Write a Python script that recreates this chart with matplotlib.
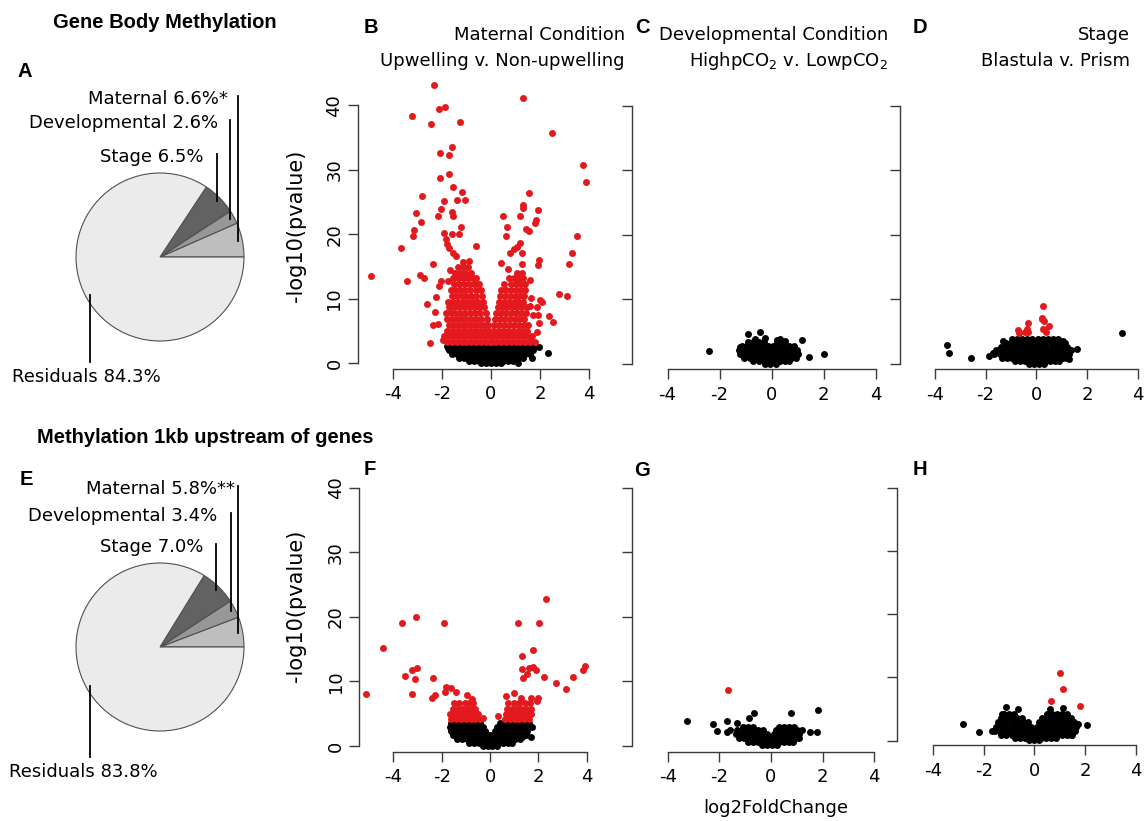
import numpy as np
import matplotlib
matplotlib.use('Agg')
import matplotlib.pyplot as plt

W, H = 1148, 821
plt.rcParams['font.family'] = 'DejaVu Sans'
plt.rcParams['axes.unicode_minus'] = False

# ---- pie data (variance explained, %) ----
pie_names = ['Maternal', 'Developmental', 'Stage', 'Residuals']
pie_a_pct = [6.6, 2.6, 6.5, 84.3]
pie_a_tags = ['*', '', '', '']
pie_e_pct = [5.8, 3.4, 7.0, 83.8]
pie_e_tags = ['**', '', '', '']
pie_colors = ['#BEBEBE', '#979797', '#626262', '#EBEBEB']

# ---- volcano data: (log2FoldChange, -log10(pvalue)) ----
b_black = [
    (-1.8, 2.7), (-1.6, 2.7), (-1.4, 2.7), (-1.2, 2.7), (-1.0, 2.7), (-0.8, 2.7), (-0.6, 2.7), (-0.4, 2.7), (-0.2, 2.7),
    (0.0, 2.7), (0.2, 2.7), (0.4, 2.7), (0.6, 2.7), (0.8, 2.7), (1.0, 2.7), (1.2, 2.7), (1.4, 2.7), (1.6, 2.7),
    (-1.7, 2.1), (-1.5, 2.1), (-1.3, 2.1), (-1.1, 2.1), (-0.9, 2.1), (-0.7, 2.1), (-0.5, 2.1), (-0.3, 2.1), (-0.1, 2.1),
    (0.1, 2.1), (0.3, 2.1), (0.5, 2.1), (0.7, 2.1), (0.9, 2.1), (1.1, 2.1), (1.3, 2.1), (1.5, 2.1), (1.7, 2.1),
    (-1.6, 1.5), (-1.4, 1.5), (-1.2, 1.5), (-1.0, 1.5), (-0.8, 1.5), (-0.6, 1.5), (-0.4, 1.5), (-0.2, 1.5), (0.0, 1.5),
    (0.2, 1.5), (0.4, 1.5), (0.6, 1.5), (0.8, 1.5), (1.0, 1.5), (1.2, 1.5), (1.4, 1.5), (1.6, 1.5),
    (-1.3, 0.9), (-1.1, 0.9), (-0.9, 0.9), (-0.7, 0.9), (-0.5, 0.9), (-0.3, 0.9), (-0.1, 0.9),
    (0.1, 0.9), (0.3, 0.9), (0.5, 0.9), (0.7, 0.9), (0.9, 0.9), (1.1, 0.9), (1.3, 0.9),
    (-0.9, 0.4), (-0.7, 0.4), (-0.5, 0.4), (-0.3, 0.4), (-0.1, 0.4), (0.1, 0.4), (0.3, 0.4), (0.5, 0.4), (0.7, 0.4), (0.9, 0.4),
    (-0.4, 0.05), (-0.2, 0.05), (0.0, 0.05), (0.2, 0.05), (0.4, 0.05),
    (-1.74, 2.4), (1.73, 2.45), (1.96, 2.6), (2.34, 1.6), (1.68, 0.8), (1.11, 0.0),
]
b_red = [
    # scattered hits
    (-2.32, 43.2), (1.32, 41.1), (-2.11, 39.5), (-1.86, 39.8), (-3.21, 38.4), (-2.46, 37.1), (-1.26, 37.4),
    (2.47, 35.7), (-1.6, 33.6), (-2.08, 32.7), (-1.73, 32.3), (3.74, 30.8), (3.87, 28.2), (-1.73, 29.4),
    (-2.08, 28.7), (-2.8, 25.9), (-1.92, 25.2), (-1.54, 27.3), (-1.17, 26.6), (-1.05, 25.4), (-1.39, 25.3),
    (1.56, 26.4), (1.32, 24.6), (1.32, 24.1), (1.93, 23.8), (-3.06, 23.4), (-2.05, 23.9), (-2.17, 22.8),
    (-1.6, 23.5), (-1.54, 22.8), (0.5, 22.9), (1.18, 22.9), (0.67, 21.1), (0.61, 19.8), (1.82, 22.2),
    (1.79, 21.8), (1.43, 20.9), (1.54, 20.5), (-2.87, 22.0), (-3.13, 20.7), (-3.17, 19.8), (-1.22, 21.1),
    (-1.29, 20.0), (-1.58, 20.0), (-1.9, 20.2), (-1.85, 19.3), (-1.8, 18.6), (-1.7, 17.9), (-1.54, 17.2),
    (-1.43, 16.6), (-0.61, 18.2), (-3.67, 17.9), (3.49, 19.8), (3.32, 17.1), (3.18, 15.5), (1.97, 16.0),
    (1.92, 15.3), (1.18, 18.7), (1.05, 18.1), (0.94, 17.7), (0.77, 17.2), (1.25, 17.2), (1.28, 15.5),
    (0.39, 15.6), (0.71, 14.6), (-2.35, 15.5), (-1.13, 15.8), (-0.9, 15.9), (-3.44, 12.8), (-4.9, 13.5),
    (-2.89, 13.7), (-2.71, 13.3), (-2.04, 12.8), (-2.1, 12.0), (-2.6, 9.2), (-2.24, 10.3), (-2.27, 8.0),
    (-2.38, 6.0), (-2.15, 6.2), (-2.49, 3.2), (-1.94, 3.6), (2.79, 10.8), (3.08, 10.4), (2.38, 7.3),
    (2.54, 6.4), (1.97, 6.3), (1.93, 7.5), (1.7, 7.5), (1.86, 4.9), (1.62, 4.1), (2.0, 9.8), (2.09, 9.5),
    (1.62, 10.1), (1.59, 8.9), (1.89, 8.8), (-1.75, 12.8), (-1.67, 14.5), (1.59, 12.9), (1.11, 12.9),
    # dense left arm
    (-1.8, 3.3), (-1.6, 3.3), (-1.4, 3.3), (-1.2, 3.3), (-1.0, 3.3), (-0.8, 3.3), (-0.6, 3.3), (-0.4, 3.3), (-0.22, 3.3), (-0.06, 3.3),
    (-1.9, 4.2), (-1.7, 4.2), (-1.5, 4.2), (-1.3, 4.2), (-1.1, 4.2), (-0.9, 4.2), (-0.7, 4.2), (-0.5, 4.2), (-0.3, 4.2), (-0.1, 4.2),
    (-1.8, 5.1), (-1.6, 5.1), (-1.4, 5.1), (-1.2, 5.1), (-1.0, 5.1), (-0.8, 5.1), (-0.6, 5.1), (-0.4, 5.1), (-0.25, 5.1), (-0.1, 5.1),
    (-1.7, 6.0), (-1.5, 6.0), (-1.3, 6.0), (-1.1, 6.0), (-0.9, 6.0), (-0.7, 6.0), (-0.5, 6.0), (-0.3, 6.0), (-0.13, 6.0),
    (-1.8, 6.9), (-1.6, 6.9), (-1.4, 6.9), (-1.2, 6.9), (-1.0, 6.9), (-0.8, 6.9), (-0.6, 6.9), (-0.4, 6.9), (-0.16, 6.9),
    (-1.85, 7.8), (-1.65, 7.8), (-1.45, 7.8), (-1.25, 7.8), (-1.05, 7.8), (-0.85, 7.8), (-0.65, 7.8), (-0.45, 7.8), (-0.22, 7.8),
    (-1.7, 8.7), (-1.5, 8.7), (-1.3, 8.7), (-1.1, 8.7), (-0.9, 8.7), (-0.7, 8.7), (-0.5, 8.7), (-0.27, 8.7),
    (-1.75, 9.6), (-1.55, 9.6), (-1.35, 9.6), (-1.15, 9.6), (-0.95, 9.6), (-0.75, 9.6), (-0.55, 9.6), (-0.32, 9.6),
    (-1.6, 10.5), (-1.4, 10.5), (-1.2, 10.5), (-1.0, 10.5), (-0.8, 10.5), (-0.6, 10.5), (-0.36, 10.5),
    (-1.65, 11.4), (-1.45, 11.4), (-1.25, 11.4), (-1.05, 11.4), (-0.85, 11.4), (-0.62, 11.4), (-0.4, 11.4),
    (-1.5, 12.3), (-1.3, 12.3), (-1.1, 12.3), (-0.9, 12.3), (-0.7, 12.3), (-0.48, 12.3),
    (-1.55, 13.2), (-1.35, 13.2), (-1.15, 13.2), (-0.95, 13.2), (-0.75, 13.2), (-0.6, 13.2),
    (-1.45, 14.1), (-1.25, 14.1), (-1.05, 14.1), (-0.8, 14.1),
    (-1.35, 15.0), (-1.15, 15.0), (-0.95, 15.0),
    # dense right arm
    (0.06, 3.3), (0.22, 3.3), (0.4, 3.3), (0.6, 3.3), (0.8, 3.3), (1.0, 3.3), (1.2, 3.3), (1.4, 3.3), (1.6, 3.3), (1.8, 3.3),
    (0.1, 4.2), (0.3, 4.2), (0.5, 4.2), (0.7, 4.2), (0.9, 4.2), (1.1, 4.2), (1.3, 4.2), (1.5, 4.2), (1.68, 4.2),
    (0.1, 5.1), (0.28, 5.1), (0.48, 5.1), (0.68, 5.1), (0.88, 5.1), (1.08, 5.1), (1.28, 5.1), (1.48, 5.1),
    (0.13, 6.0), (0.33, 6.0), (0.53, 6.0), (0.73, 6.0), (0.93, 6.0), (1.13, 6.0), (1.33, 6.0), (1.5, 6.0),
    (0.16, 6.9), (0.36, 6.9), (0.56, 6.9), (0.76, 6.9), (0.96, 6.9), (1.16, 6.9), (1.36, 6.9),
    (0.22, 7.8), (0.42, 7.8), (0.62, 7.8), (0.82, 7.8), (1.02, 7.8), (1.22, 7.8), (1.42, 7.8),
    (0.27, 8.7), (0.47, 8.7), (0.67, 8.7), (0.87, 8.7), (1.07, 8.7), (1.27, 8.7), (1.45, 8.7),
    (0.32, 9.6), (0.52, 9.6), (0.72, 9.6), (0.92, 9.6), (1.12, 9.6), (1.32, 9.6),
    (0.36, 10.5), (0.56, 10.5), (0.76, 10.5), (0.96, 10.5), (1.16, 10.5), (1.36, 10.5),
    (0.42, 11.4), (0.62, 11.4), (0.82, 11.4), (1.02, 11.4), (1.22, 11.4), (1.4, 11.4),
    (0.55, 12.3), (0.8, 12.3), (1.0, 12.3), (1.2, 12.3), (1.38, 12.3),
    (0.75, 13.2), (0.95, 13.2), (1.15, 13.2), (1.32, 13.2),
    (1.05, 14.1), (1.25, 14.1),
]
c_black = [
    (-0.9, 3.4), (-0.7, 3.4), (-0.5, 3.4), (-0.3, 3.4), (0.2, 3.4), (0.4, 3.4),
    (-1.15, 2.8), (-0.95, 2.8), (-0.75, 2.8), (-0.55, 2.8), (-0.35, 2.8), (-0.15, 2.8), (0.05, 2.8), (0.25, 2.8),
    (0.45, 2.8), (0.65, 2.8), (0.85, 2.8),
    (-1.25, 2.2), (-1.05, 2.2), (-0.85, 2.2), (-0.65, 2.2), (-0.45, 2.2), (-0.25, 2.2), (-0.05, 2.2), (0.15, 2.2),
    (0.35, 2.2), (0.55, 2.2), (0.75, 2.2), (0.95, 2.2),
    (-1.2, 1.6), (-1.0, 1.6), (-0.8, 1.6), (-0.6, 1.6), (-0.4, 1.6), (-0.2, 1.6), (0.0, 1.6), (0.2, 1.6),
    (0.4, 1.6), (0.6, 1.6), (0.8, 1.6), (1.0, 1.6),
    (-1.05, 1.0), (-0.85, 1.0), (-0.65, 1.0), (-0.45, 1.0), (-0.25, 1.0), (-0.05, 1.0), (0.15, 1.0), (0.35, 1.0),
    (0.55, 1.0), (0.75, 1.0), (0.92, 1.0),
    (-0.7, 0.45), (-0.5, 0.45), (-0.3, 0.45), (-0.1, 0.45), (0.1, 0.45), (0.3, 0.45), (0.5, 0.45), (0.68, 0.45),
    (-0.25, 0.05), (-0.05, 0.05), (0.15, 0.05),
    (-2.39, 2.0), (-0.45, 4.9), (-0.92, 4.65), (1.15, 3.7), (1.42, 1.1), (2.01, 1.55), (-0.64, 3.8),
    (0.19, 3.7), (0.51, 3.5), (-1.22, 2.7), (0.96, 2.1), (-0.25, 4.1), (0.3, 3.9),
]
c_red = []
d_black = [
    (-0.95, 3.9), (-0.75, 3.9), (-0.55, 3.9), (-0.35, 3.9), (-0.15, 3.9), (0.05, 3.9), (0.25, 3.9), (0.45, 3.9),
    (0.65, 3.9), (0.85, 3.9),
    (-1.2, 3.3), (-1.0, 3.3), (-0.8, 3.3), (-0.6, 3.3), (-0.4, 3.3), (-0.2, 3.3), (0.0, 3.3), (0.2, 3.3),
    (0.4, 3.3), (0.6, 3.3), (0.8, 3.3), (1.0, 3.3), (1.15, 3.3),
    (-1.4, 2.7), (-1.2, 2.7), (-1.0, 2.7), (-0.8, 2.7), (-0.6, 2.7), (-0.4, 2.7), (-0.2, 2.7), (0.0, 2.7),
    (0.2, 2.7), (0.4, 2.7), (0.6, 2.7), (0.8, 2.7), (1.0, 2.7), (1.2, 2.7),
    (-1.6, 2.1), (-1.4, 2.1), (-1.2, 2.1), (-1.0, 2.1), (-0.8, 2.1), (-0.6, 2.1), (-0.4, 2.1), (-0.2, 2.1),
    (0.0, 2.1), (0.2, 2.1), (0.4, 2.1), (0.6, 2.1), (0.8, 2.1), (1.0, 2.1), (1.2, 2.1), (1.35, 2.1),
    (-1.65, 1.5), (-1.45, 1.5), (-1.25, 1.5), (-1.05, 1.5), (-0.85, 1.5), (-0.65, 1.5), (-0.45, 1.5), (-0.25, 1.5),
    (-0.05, 1.5), (0.15, 1.5), (0.35, 1.5), (0.55, 1.5), (0.75, 1.5), (0.95, 1.5), (1.15, 1.5), (1.3, 1.5),
    (-1.35, 0.9), (-1.15, 0.9), (-0.95, 0.9), (-0.75, 0.9), (-0.55, 0.9), (-0.35, 0.9), (-0.15, 0.9), (0.05, 0.9),
    (0.25, 0.9), (0.45, 0.9), (0.65, 0.9), (0.85, 0.9), (1.05, 0.9), (1.2, 0.9),
    (-0.85, 0.4), (-0.65, 0.4), (-0.45, 0.4), (-0.25, 0.4), (-0.05, 0.4), (0.15, 0.4), (0.35, 0.4), (0.55, 0.4),
    (0.75, 0.4), (0.9, 0.4),
    (-0.3, 0.05), (-0.1, 0.05), (0.1, 0.05), (0.3, 0.05),
    (3.39, 4.75), (-3.51, 2.95), (-3.43, 1.75), (-2.59, 0.9), (1.59, 2.3), (1.3, 0.7), (1.07, 3.6),
    (-1.7, 1.65), (-1.3, 3.5), (-1.85, 1.3),
]
d_red = [
    (0.25, 9.0), (0.21, 7.1), (0.3, 6.6), (0.51, 5.9), (0.28, 5.5), (0.38, 4.9), (-0.71, 5.3), (-0.32, 6.3),
    (-0.32, 5.0), (-0.36, 5.5), (-0.67, 4.75), (-0.45, 4.9), (0.22, 6.9), (0.36, 5.2),
]
f_black = [
    (-1.6, 3.5), (-1.4, 3.5), (-1.2, 3.5), (-1.0, 3.5), (-0.8, 3.5), (-0.6, 3.5), (-0.4, 3.5),
    (0.4, 3.5), (0.6, 3.5), (0.8, 3.5), (1.0, 3.5), (1.2, 3.5), (1.4, 3.5), (1.6, 3.5),
    (-1.65, 2.9), (-1.45, 2.9), (-1.25, 2.9), (-1.05, 2.9), (-0.85, 2.9), (-0.65, 2.9), (-0.45, 2.9), (-0.28, 2.9),
    (0.28, 2.9), (0.45, 2.9), (0.65, 2.9), (0.85, 2.9), (1.05, 2.9), (1.25, 2.9), (1.45, 2.9),
    (-1.6, 2.3), (-1.4, 2.3), (-1.2, 2.3), (-1.0, 2.3), (-0.8, 2.3), (-0.6, 2.3), (-0.4, 2.3), (-0.22, 2.3),
    (0.22, 2.3), (0.4, 2.3), (0.6, 2.3), (0.8, 2.3), (1.0, 2.3), (1.2, 2.3), (1.4, 2.3), (1.55, 2.3),
    (-1.55, 1.7), (-1.35, 1.7), (-1.15, 1.7), (-0.95, 1.7), (-0.75, 1.7), (-0.55, 1.7), (-0.35, 1.7), (-0.17, 1.7),
    (0.0, 1.7), (0.17, 1.7), (0.35, 1.7), (0.55, 1.7), (0.75, 1.7), (0.95, 1.7), (1.15, 1.7), (1.35, 1.7), (1.5, 1.7),
    (-1.35, 1.1), (-1.15, 1.1), (-0.95, 1.1), (-0.75, 1.1), (-0.55, 1.1), (-0.35, 1.1), (-0.15, 1.1),
    (0.05, 1.1), (0.25, 1.1), (0.45, 1.1), (0.65, 1.1), (0.85, 1.1), (1.05, 1.1), (1.25, 1.1),
    (-0.85, 0.5), (-0.65, 0.5), (-0.45, 0.5), (-0.25, 0.5), (-0.05, 0.5), (0.15, 0.5), (0.35, 0.5), (0.55, 0.5),
    (0.75, 0.5), (0.9, 0.5),
    (-0.3, 0.05), (-0.1, 0.05), (0.1, 0.05), (0.3, 0.05),
    (1.72, 3.0), (1.68, 1.4), (1.31, 1.4),
]
f_red = [
    (-5.13, 8.05), (-4.41, 15.1), (-3.64, 19.1), (-3.08, 20.0), (-1.92, 19.0), (-3.52, 10.9), (-3.23, 11.8),
    (-3.01, 12.1), (-3.1, 10.3), (-3.24, 8.0), (-2.34, 10.5), (-2.39, 7.5), (-2.28, 7.9), (-1.82, 9.2),
    (-1.61, 9.0), (-1.42, 8.4), (-1.85, 8.3), (-0.94, 7.9), (-0.73, 7.2), (1.14, 19.1), (2.03, 19.1),
    (2.32, 22.7), (1.31, 14.0), (1.79, 14.8), (1.31, 11.9), (1.63, 12.1), (1.77, 12.3), (1.9, 11.8),
    (1.52, 11.1), (1.38, 10.6), (2.23, 10.7), (2.72, 9.7), (3.13, 8.8), (3.45, 10.7), (3.86, 11.8),
    (3.93, 12.4), (0.66, 7.7), (1.01, 8.2), (1.27, 7.4), (1.68, 7.5), (2.0, 7.5), (1.96, 6.9), (0.32, 4.6),
    (-1.6, 4.2), (-1.4, 4.2), (-1.2, 4.2), (-1.0, 4.2), (-0.8, 4.2), (-0.6, 4.2), (-0.42, 4.2), (-0.3, 4.4),
    (-1.65, 5.0), (-1.45, 5.0), (-1.25, 5.0), (-1.05, 5.0), (-0.85, 5.0), (-0.65, 5.0), (-0.48, 5.0),
    (-1.55, 5.8), (-1.35, 5.8), (-1.15, 5.8), (-0.95, 5.8), (-0.75, 5.8), (-0.6, 5.8),
    (-1.5, 6.6), (-1.3, 6.6), (-1.05, 6.6), (-0.85, 6.6), (-0.7, 6.6),
    (0.62, 4.2), (0.82, 4.2), (1.02, 4.2), (1.22, 4.2), (1.42, 4.2), (1.62, 4.2),
    (0.68, 5.0), (0.88, 5.0), (1.08, 5.0), (1.28, 5.0), (1.48, 5.0), (1.68, 5.0),
    (0.7, 5.8), (0.9, 5.8), (1.1, 5.8), (1.3, 5.8), (1.5, 5.8), (1.7, 5.8),
    (0.75, 6.6), (0.98, 6.6), (1.2, 6.6), (1.45, 6.6), (1.65, 6.6),
]
g_black = [
    (-1.1, 3.0), (-0.9, 3.0), (-0.7, 3.0), (0.3, 3.0), (0.5, 3.0), (0.7, 3.0), (0.9, 3.0),
    (-1.3, 2.4), (-1.1, 2.4), (-0.9, 2.4), (-0.7, 2.4), (-0.5, 2.4), (-0.3, 2.4), (0.2, 2.4), (0.4, 2.4),
    (0.6, 2.4), (0.8, 2.4), (1.0, 2.4), (1.2, 2.4),
    (-1.35, 1.8), (-1.15, 1.8), (-0.95, 1.8), (-0.75, 1.8), (-0.55, 1.8), (-0.35, 1.8), (-0.15, 1.8), (0.1, 1.8),
    (0.3, 1.8), (0.5, 1.8), (0.7, 1.8), (0.9, 1.8), (1.1, 1.8),
    (-1.25, 1.2), (-1.05, 1.2), (-0.85, 1.2), (-0.65, 1.2), (-0.45, 1.2), (-0.25, 1.2), (-0.05, 1.2), (0.15, 1.2),
    (0.35, 1.2), (0.55, 1.2), (0.75, 1.2), (0.95, 1.2), (1.1, 1.2),
    (-0.9, 0.6), (-0.7, 0.6), (-0.5, 0.6), (-0.3, 0.6), (-0.1, 0.6), (0.1, 0.6), (0.3, 0.6), (0.5, 0.6),
    (0.7, 0.6), (0.85, 0.6),
    (-0.35, 0.1), (-0.15, 0.1), (0.05, 0.1), (0.25, 0.1),
    (-3.24, 3.9), (-2.24, 3.35), (-2.08, 2.3), (-1.69, 3.9), (-1.72, 2.1), (-1.59, 2.4), (-0.85, 4.4),
    (-0.66, 5.1), (0.76, 5.1), (1.82, 5.5), (1.8, 2.2), (1.51, 2.2), (-1.33, 3.5),
]
g_red = [(-1.65, 8.6)]
h_black = [
    (-1.2, 4.3), (-1.0, 4.3), (-0.8, 4.3), (0.5, 4.3), (0.7, 4.3), (0.9, 4.3), (1.1, 4.3), (1.3, 4.3),
    (-1.3, 3.6), (-1.1, 3.6), (-0.9, 3.6), (-0.7, 3.6), (-0.5, 3.6), (0.3, 3.6), (0.5, 3.6), (0.7, 3.6),
    (0.9, 3.6), (1.1, 3.6), (1.3, 3.6), (1.45, 3.6),
    (-1.45, 2.9), (-1.25, 2.9), (-1.05, 2.9), (-0.85, 2.9), (-0.65, 2.9), (-0.45, 2.9), (-0.25, 2.9),
    (0.2, 2.9), (0.4, 2.9), (0.6, 2.9), (0.8, 2.9), (1.0, 2.9), (1.2, 2.9), (1.4, 2.9), (1.55, 2.9),
    (-1.5, 2.2), (-1.3, 2.2), (-1.1, 2.2), (-0.9, 2.2), (-0.7, 2.2), (-0.5, 2.2), (-0.3, 2.2), (-0.12, 2.2),
    (0.12, 2.2), (0.3, 2.2), (0.5, 2.2), (0.7, 2.2), (0.9, 2.2), (1.1, 2.2), (1.3, 2.2), (1.5, 2.2), (1.65, 2.2),
    (-1.55, 1.5), (-1.35, 1.5), (-1.15, 1.5), (-0.95, 1.5), (-0.75, 1.5), (-0.55, 1.5), (-0.35, 1.5), (-0.15, 1.5),
    (0.05, 1.5), (0.25, 1.5), (0.45, 1.5), (0.65, 1.5), (0.85, 1.5), (1.05, 1.5), (1.25, 1.5), (1.45, 1.5), (1.6, 1.5),
    (-1.3, 0.9), (-1.1, 0.9), (-0.9, 0.9), (-0.7, 0.9), (-0.5, 0.9), (-0.3, 0.9), (-0.1, 0.9), (0.1, 0.9),
    (0.3, 0.9), (0.5, 0.9), (0.7, 0.9), (0.9, 0.9), (1.1, 0.9), (1.3, 0.9), (1.45, 0.9),
    (-0.75, 0.4), (-0.55, 0.4), (-0.35, 0.4), (-0.15, 0.4), (0.05, 0.4), (0.25, 0.4), (0.45, 0.4), (0.65, 0.4), (0.85, 0.4),
    (-0.2, 0.05), (0.0, 0.05), (0.2, 0.05),
    (-2.81, 2.6), (-2.19, 1.3), (2.09, 2.5), (-1.13, 5.4), (-0.63, 5.0), (-1.28, 4.3), (0.62, 5.0),
    (1.12, 5.1), (-1.69, 1.6), (1.74, 2.7), (1.48, 0.9),
]
h_red = [(1.01, 10.75), (1.15, 8.1), (0.65, 6.2), (1.8, 5.5)]

x_ticks = [-4, -2, 0, 2, 4]
y_ticks = [0, 10, 20, 30, 40]

# ---- layout in pixels: y-axis x, x=0 px, px/unit x, y=0 px, px/unit y, x-axis y ----
layout = {
    'B': (358.0, 491.0, 24.54, 363.5, 6.45, 368.8),
    'C': (632.0, 771.7, 26.04, 364.0, 6.45, 369.3),
    'D': (900.0, 1036.3, 25.34, 364.0, 6.45, 369.3),
    'F': (359.3, 490.0, 24.17, 746.0, 6.46, 751.7),
    'G': (631.7, 771.0, 25.8, 746.0, 6.46, 751.7),
    'H': (897.3, 1034.3, 25.3, 740.7, 6.325, 745.0),
}

RED = '#E3191E'
AXC = '#3a3a3a'

fig = plt.figure(figsize=(W / 100, H / 100), dpi=100)


def volcano(key, black, red, show_ylab):
    left, x0, xs, y0, ys, bot = layout[key]
    xmin, xmax = (left - x0) / xs, 4.4
    ymin, ymax = -(bot - y0) / ys, 46
    top = y0 - ymax * ys
    ax = fig.add_axes([left / W, (H - bot) / H, (xmax - xmin) * xs / W, (bot - top) / H])
    ax.set_xlim(xmin, xmax)
    ax.set_ylim(ymin, ymax)
    ax.patch.set_alpha(0)
    bx, by = zip(*black)
    ax.plot(bx, by, 'o', color='black', ms=5, mew=0, clip_on=False)
    if red:
        rx, ry = zip(*red)
        ax.plot(rx, ry, 'o', color=RED, ms=5, mew=0, clip_on=False)
    for s in ['top', 'right']:
        ax.spines[s].set_visible(False)
    ax.spines['left'].set_bounds(0, 40)
    ax.spines['bottom'].set_bounds(-4, 4)
    for s in ['left', 'bottom']:
        ax.spines[s].set_color(AXC)
        ax.spines[s].set_linewidth(1.0)
    ax.set_xticks(x_ticks)
    ax.set_yticks(y_ticks)
    ax.tick_params(direction='out', length=7.5, width=1.0, color=AXC, labelsize=13)
    ax.tick_params(axis='x', pad=4.5)
    ax.tick_params(axis='y', pad=3, labelleft=show_ylab)
    if show_ylab:
        plt.setp(ax.get_yticklabels(), rotation=90, va='center')
    return ax


volcano('B', b_black, b_red, True)
volcano('C', c_black, c_red, False)
volcano('D', d_black, d_red, False)
volcano('F', f_black, f_red, True)
volcano('G', g_black, g_red, False)
volcano('H', h_black, h_red, False)

# overlay in pixel coordinates for text and leader lines
ov = fig.add_axes([0, 0, 1, 1], zorder=5)
ov.set_xlim(0, W)
ov.set_ylim(H, 0)
ov.axis('off')


def pie(center, r, pct, tags, label_pos):
    cx, cy = center
    R = r * 1.04
    ax = fig.add_axes([(cx - R) / W, (H - cy - R) / H, 2 * R / W, 2 * R / H])
    ax.pie(pct, colors=pie_colors, startangle=0, counterclock=True, radius=1,
           wedgeprops=dict(edgecolor='#505050', linewidth=0.8))
    ax.set_xlim(-1.04, 1.04)
    ax.set_ylim(-1.04, 1.04)
    ax.axis('off')
    # leader lines from mid-angle of each slice to its label
    cum = np.cumsum([0] + list(pct)) / 100 * 360
    for i, (name, v) in enumerate(zip(pie_names, pct)):
        mid = np.deg2rad((cum[i] + cum[i + 1]) / 2)
        px = cx + 0.95 * r * np.cos(mid)
        py = cy - 0.95 * r * np.sin(mid)
        lx, ly = label_pos[i]
        txt = f'{name} {v:.1f}%{tags[i]}'
        if name == 'Residuals':
            ov.plot([px, px], [py, ly - 20], color='black', lw=1.3)
            ov.text(lx, ly, txt, ha='left', va='baseline', fontsize=13)
        else:
            ov.plot([px, px], [py, ly - 8], color='black', lw=1.3)
            ov.text(lx, ly, txt, ha='right', va='baseline', fontsize=13)


pie((160, 257), 84, pie_a_pct, pie_a_tags, [(228, 104), (218, 128), (203, 162), (12, 382)])
pie((160, 647), 84, pie_e_pct, pie_e_tags, [(235, 494), (217, 521), (203, 552), (9, 777)])

bold = dict(family='Liberation Sans', fontweight='bold', va='baseline')
ov.text(53, 28, 'Gene Body Methylation', fontsize=14.5, **bold)
ov.text(37, 443, 'Methylation 1kb upstream of genes', fontsize=14.5, **bold)
for letter, (x, y) in {'A': (17, 77), 'E': (20, 485), 'B': (364, 33), 'C': (635, 33),
                       'D': (913, 33), 'F': (364, 475), 'G': (634, 476), 'H': (913, 475)}.items():
    ov.text(x, y, letter, fontsize=14.5, **bold)

titles = [
    (625, 'Maternal Condition', 'Upwelling v. Non-upwelling'),
    (888, 'Developmental Condition', 'HighpCO$_2$ v. LowpCO$_2$'),
    (1130, 'Stage', 'Blastula v. Prism'),
]
for x, t1, t2 in titles:
    ov.text(x, 40, t1, ha='right', va='baseline', fontsize=13)
    ov.text(x, 66.5, t2, ha='right', va='baseline', fontsize=13)

ov.text(296, 226, '-log10(pvalue)', rotation=90, ha='center', va='center', fontsize=15)
ov.text(296, 606, '-log10(pvalue)', rotation=90, ha='center', va='center', fontsize=15)
ov.text(776, 813, 'log2FoldChange', ha='center', va='baseline', fontsize=13)

fig.savefig('out.png', dpi=100)
